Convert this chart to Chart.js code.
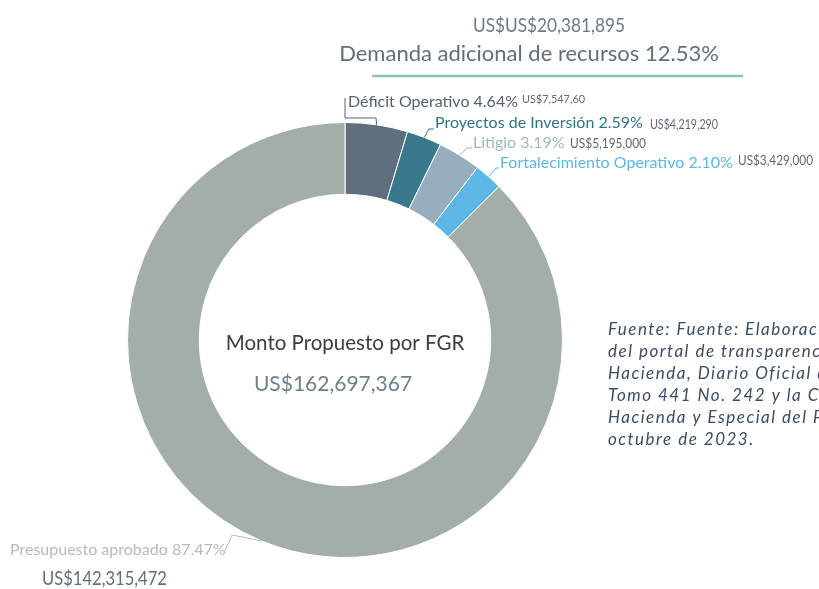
<!DOCTYPE html>
<html>
<head>
<meta charset="utf-8">
<script src="https://cdn.jsdelivr.net/npm/chart.js@4"></script>
<style>
  html, body { margin: 0; padding: 0; background: #fff; }
  #grafico { display: block; }
</style>
</head>
<body>
<canvas id="grafico" width="819" height="589"></canvas>
<script>
const categorias = ['Déficit Operativo', 'Proyectos de Inversión', 'Litigio', 'Fortalecimiento Operativo', 'Presupuesto aprobado'];
const porcentajes = [4.64, 2.59, 3.19, 2.10, 87.47];
const montos = ['US$7,547,60', 'US$4,219,290', 'US$5,195,000', 'US$3,429,000', 'US$142,315,472'];
const colores = ['#5f6f7e', '#3a788b', '#97aebe', '#5cb6e6', '#a3aea9'];
const colorEtiqueta = ['#55626f', '#2f7487', '#9fb6c5', '#5cb6e6', '#b3bcb8'];

const tituloMonto = 'US$US$20,381,895';
const tituloTexto = 'Demanda adicional de recursos 12.53%';
const centroTexto = 'Monto Propuesto por FGR';
const centroMonto = 'US$162,697,367';
const fuente = [
    'Fuente: Fuente: Elaboración propia con datos',
    'del portal de transparencia del Ministerio de',
    'Hacienda, Diario Oficial de fecha 22 de',
    'Tomo 441 No. 242 y la Comisión de',
    'Hacienda y Especial del Presupuesto,',
    'octubre de 2023.'
];

// donde va cada etiqueta y el quiebre de su linea guia
const posEtiquetas = [
    { x: 348, y: 107, montoX: 522, montoY: 103, montoSize: 11, montoAncho: 63, quiebre: [[376, 118], [345, 118], [345, 98]] },
    { x: 435, y: 128, montoX: 650, montoY: 129, montoSize: 13, montoAncho: 68, quiebre: [[429, 129], [434, 129]] },
    { x: 473, y: 148, montoX: 570, montoY: 148, montoSize: 14, montoAncho: 76, quiebre: [[467, 148], [472, 148]] },
    { x: 500, y: 168, montoX: 738, montoY: 165, montoSize: 13, montoAncho: 75, quiebre: [[496, 168], [499, 168]] },
    { x: 10, y: 555, montoX: 42, montoY: 585, montoSize: 19, montoAncho: 125, quiebre: [[232, 535], [224, 553]] }
];

const textos = {
    id: 'textos',
    afterDraw(chart) {
        const ctx = chart.ctx;
        const arcos = chart.getDatasetMeta(0).data;
        ctx.save();

        // titulo de arriba
        ctx.textAlign = 'center';
        ctx.textBaseline = 'alphabetic';
        ctx.fillStyle = '#6b7a86';
        ctx.font = '19px Lato';
        ctx.fillText(tituloMonto, 549, 32, 152);
        ctx.fillStyle = '#5f6f7c';
        ctx.font = '22px Lato';
        ctx.fillText(tituloTexto, 529, 61, 383);
        ctx.strokeStyle = '#8ec5a6';
        ctx.lineWidth = 2.5;
        ctx.beginPath();
        ctx.moveTo(372, 76);
        ctx.lineTo(743, 76);
        ctx.stroke();

        // centro
        ctx.fillStyle = '#3d3d3d';
        ctx.font = '20.5px Lato';
        ctx.fillText(centroTexto, 345, 350);
        ctx.fillStyle = '#6e7f8c';
        ctx.font = '21px Lato';
        ctx.fillText(centroMonto, 333, 391);

        // etiquetas de cada porcion
        ctx.textAlign = 'left';
        arcos.forEach((arc, i) => {
            const p = arc.getProps(['x', 'y', 'startAngle', 'endAngle', 'outerRadius']);
            const ang = (p.startAngle + p.endAngle) / 2;
            const ax = p.x + Math.cos(ang) * p.outerRadius;
            const ay = p.y + Math.sin(ang) * p.outerRadius;
            const pos = posEtiquetas[i];

            ctx.strokeStyle = colorEtiqueta[i];
            ctx.lineWidth = 1;
            ctx.beginPath();
            ctx.moveTo(ax, ay);
            pos.quiebre.forEach(q => ctx.lineTo(q[0], q[1]));
            ctx.stroke();

            ctx.fillStyle = colorEtiqueta[i];
            ctx.font = '16px Lato';
            ctx.fillText(categorias[i] + ' ' + porcentajes[i].toFixed(2) + '%', pos.x, pos.y);

            ctx.fillStyle = i === 4 ? '#5f6f7c' : '#5d6873';
            ctx.font = pos.montoSize + 'px Lato';
            ctx.fillText(montos[i], pos.montoX, pos.montoY, pos.montoAncho);
        });

        // nota de fuente
        ctx.fillStyle = '#3b4c63';
        ctx.font = 'italic 17px Lato';
        ctx.letterSpacing = '1.5px';
        fuente.forEach((linea, i) => {
            ctx.fillText(linea, 608, 335 + i * 22);
        });
        ctx.restore();
    }
};

new Chart(document.getElementById('grafico'), {
    type: 'doughnut',
    data: {
        labels: categorias,
        datasets: [{
            data: porcentajes,
            backgroundColor: colores,
            borderColor: '#ffffff',
            borderWidth: 1
        }]
    },
    options: {
        responsive: false,
        animation: false,
        cutout: '67%',
        layout: {
            padding: { left: 127, right: 256, top: 122, bottom: 31 }
        },
        plugins: {
            legend: { display: false },
            tooltip: { enabled: false }
        }
    },
    plugins: [textos]
});
</script>
</body>
</html>
